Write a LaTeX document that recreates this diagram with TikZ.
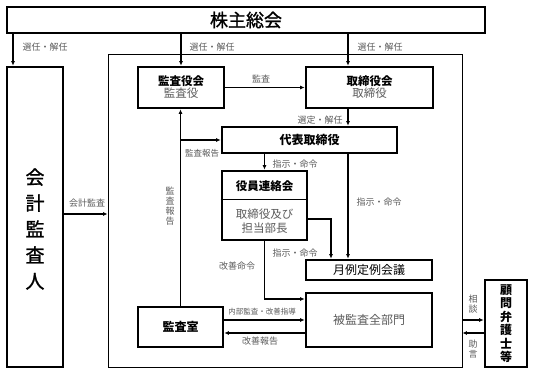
\documentclass[tikz,border=0pt]{standalone}
\usepackage{fontspec}
\setmainfont{Noto Sans CJK JP}
\newfontfamily\medfont[FakeBold=1.2]{Noto Sans CJK JP}
\usetikzlibrary{arrows.meta}
\definecolor{lblgray}{HTML}{5A5A5A}

\begin{document}
\begin{tikzpicture}[x=1pt, y=-1pt,
    box/.style={draw, line width=2.6pt, inner sep=0pt, align=center},
    lbl/.style={text=lblgray, font=\fontsize{9}{10}\selectfont, inner sep=0pt, align=center},
    ttl/.style={font=\fontsize{11.5}{14}\selectfont\bfseries, inner sep=0pt},
    sub/.style={text=lblgray, font=\fontsize{11.5}{14}\selectfont, inner sep=0pt, align=center},
    arr/.style={-{Latex[length=4.5pt,width=4pt]}, line width=1.1pt},
    ln/.style={line width=1.1pt}]
  \useasboundingbox (0,0) rectangle (533,374);

  % Shareholders' meeting
  \node[box, minimum width=478, minimum height=26, font=\medfont\fontsize{18}{20}\selectfont]
      (soukai) at (246,20) {株主総会};

  % Outer frame
  \node[draw, line width=0.9pt, minimum width=354, minimum height=313] (frame) at (285,210.5) {};

  % Accounting auditor
  \node[box, minimum width=56, minimum height=300] (kaikei) at (35,217) {};
  \node[font=\medfont\fontsize{19}{26}\selectfont, align=center, inner sep=0pt]
      (kaikeiT) at (35,229) {会\\計\\監\\査\\人};

  % Boards
  \node[box, minimum width=86, minimum height=41] (kansayaku) at (181,87.5)
      {{\fontsize{11.5}{14}\selectfont\bfseries 監査役会}\\{\color{lblgray}\fontsize{11.5}{14}\selectfont 監査役}};
  \node[box, minimum width=127, minimum height=41] (torikai) at (369.5,87.5)
      {{\fontsize{11.5}{14}\selectfont\bfseries 取締役会}\\{\color{lblgray}\fontsize{11.5}{14}\selectfont 取締役}};
  \node[box, minimum width=175, minimum height=26, font=\fontsize{12}{14}\selectfont\bfseries]
      (daihyo) at (309.5,140) {代表取締役};

  % Officers' liaison meeting
  \node[box, minimum width=85, minimum height=69] (yakuin) at (264.5,205.5) {};
  \draw[line width=1pt] (yakuin.west |- 0,200) -- (yakuin.east |- 0,200);
  \node[ttl] (yakuinT) at (264.5,186) {役員連絡会};
  \node[sub] (yakuinB) at (264.5,221) {取締役及び\\担当部長};

  % Meetings and departments
  \node[box, minimum width=126, minimum height=20, font=\fontsize{12}{14}\selectfont]
      (getsurei) at (369,270) {月例定例会議};
  \node[box, minimum width=126, minimum height=54, font=\fontsize{12}{14}\selectfont, text=lblgray]
      (hikansa) at (369,320) {被監査全部門};
  \node[box, minimum width=85, minimum height=40, font=\fontsize{12}{14}\selectfont\bfseries]
      (kansashitsu) at (180.5,327) {監査室};
  \node[box, minimum width=42, minimum height=87, font=\fontsize{12}{13.5}\selectfont\bfseries]
      (komon) at (506,323.5) {顧\\問\\弁\\護\\士\\等};

  % Helper coordinates
  \coordinate (xA) at (13,0);
  \coordinate (xC) at (348,0);
  \coordinate (xE) at (331,0);
  \coordinate (yD) at (0,219);
  \coordinate (yF) at (0,299);
  \coordinate (yH) at (0,333);
  \coordinate (yK) at (0,214);

  % Elections
  \draw[arr] (soukai.south -| xA) -- (kaikei.north -| xA);
  \draw[arr] (soukai.south -| kansayaku.north) -- (kansayaku.north);
  \draw[arr] (soukai.south -| xC) -- (torikai.north -| xC);
  \node[lbl] (senA) at (45,47) {選任・解任};
  \node[lbl] (senB) at (212,47) {選任・解任};
  \node[lbl] (senC) at (380,47) {選任・解任};

  % Audit
  \draw[arr] (kansayaku.east) -- (torikai.west);
  \node[lbl] (kansaL) at (261,79) {監査};
  \draw[arr] (torikai.south -| xC) -- (daihyo.north -| xC);
  \node[lbl] (senteiL) at (320,120) {選定・解任};

  % Audit reports
  \draw[arr] (kansashitsu.north) -- (kansashitsu.north |- kansayaku.south);
  \draw[arr] (kansashitsu.north |- daihyo.west) -- (daihyo.west);
  \node[lbl, font=\fontsize{8.5}{10}\selectfont] (houkokuH) at (202,153) {監査報告};
  \node[lbl, font=\fontsize{9}{10}\selectfont] (houkokuV) at (170,206) {監\\査\\報\\告};

  % Instructions
  \draw[arr] (daihyo.south -| yakuin.north) -- (yakuin.north);
  \node[lbl] (shijiA) at (295,164) {指示・命令};
  \draw[arr] (daihyo.south -| xC) -- (getsurei.north -| xC);
  \node[lbl] (shijiB) at (379,202) {指示・命令};
  \draw[arr] (yakuin.east |- yD) -| (getsurei.north -| xE);
  \node[lbl] (shijiC) at (295,253) {指示・命令};
  \draw[arr] (yakuin.south) |- (hikansa.west |- yF);
  \node[lbl] (kaizenM) at (237,266) {改善命令};

  % Internal audit
  \draw[arr] (kansashitsu.east |- hikansa.west) -- (hikansa.west);
  \node[lbl, font=\fontsize{7.5}{9}\selectfont] (naibuL) at (262,312) {内部監査・改善指導};
  \draw[arr] (hikansa.west |- yH) -- (kansashitsu.east |- yH);
  \node[lbl] (kaizenH) at (260,341) {改善報告};

  % Accounting audit
  \draw[arr] (kaikei.east |- yK) -- (frame.west |- yK);
  \node[lbl] (kaikeiL) at (87,203) {会計監査};

  % Legal advisers
  \draw[arr] (frame.east |- hikansa.west) -- (komon.west |- hikansa.west);
  \node[lbl] (soudanL) at (473,304) {相\\談};
  \draw[arr] (komon.west |- yH) -- (frame.east |- yH);
  \node[lbl] (jogenL) at (473,349) {助\\言};
\end{tikzpicture}
\end{document}
